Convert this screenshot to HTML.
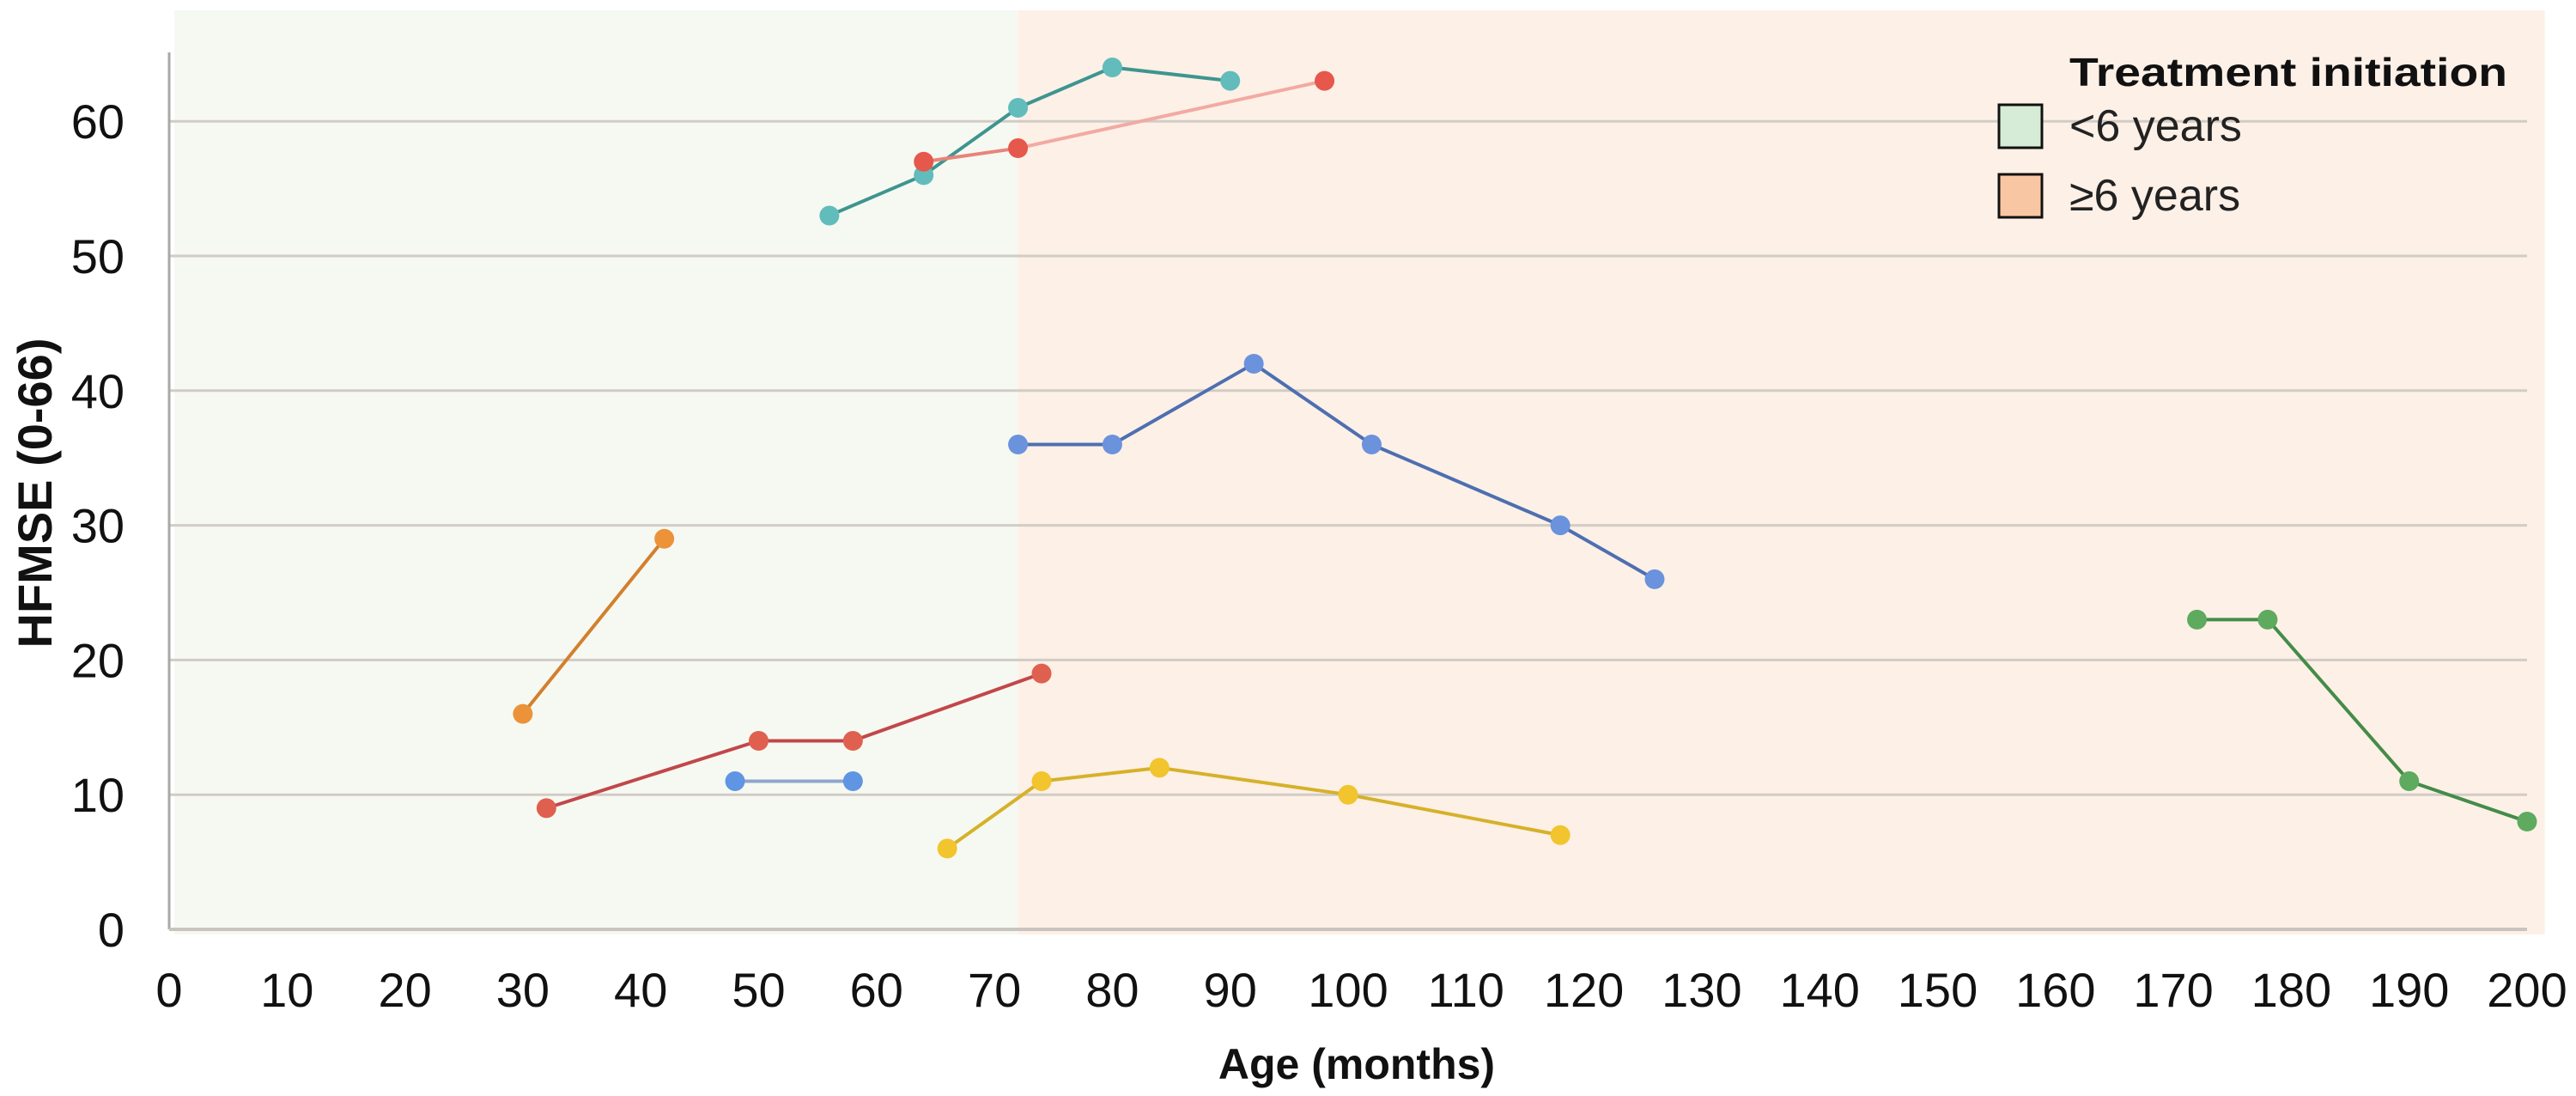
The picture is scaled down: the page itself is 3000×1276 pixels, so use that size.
<!DOCTYPE html>
<html><head><meta charset="utf-8"><style>
html,body{margin:0;padding:0;background:#fff;}
svg{display:block;}
text{font-family:"Liberation Sans",Arial,sans-serif;}
</style></head><body>
<svg id="chart" width="3000" height="1276" viewBox="0 0 3000 1276" xmlns="http://www.w3.org/2000/svg">
<g id="bg"></g>
<g id="grid"></g>
<g id="axes"></g>
<g id="series"></g>
<g id="legend">
  <text x="2410" y="100" font-size="46" font-weight="bold" textLength="510" lengthAdjust="spacingAndGlyphs" fill="#111">Treatment initiation</text>
  <rect x="2328" y="122" width="50" height="50" fill="#d7ecd6" stroke="#111" stroke-width="3"/>
  <text x="2410" y="164" font-size="52" fill="#222">&lt;6 years</text>
  <rect x="2328" y="203" width="50" height="50" fill="#f9c6a4" stroke="#111" stroke-width="3"/>
  <text x="2410" y="245" font-size="52" fill="#222">≥6 years</text>
</g>
<text x="1580" y="1256" font-size="50" font-weight="bold" text-anchor="middle" fill="#111">Age (months)</text>
<text transform="translate(60,574) rotate(-90)" font-size="56" font-weight="bold" text-anchor="middle" fill="#111">HFMSE (0-66)</text>
</svg>
<script>
const xTicks = [0,10,20,30,40,50,60,70,80,90,100,110,120,130,140,150,160,170,180,190,200];
const yTicks = [0,10,20,30,40,50,60];
const regionBounds = [0,72,201.5];
const tealX = [56,64,72,80,90];
const tealY = [53,56,61,64,63];
const salmonX = [64,72,98];
const salmonY = [57,58,63];
const blueX = [72,80,92,102,118,126];
const blueY = [36,36,42,36,30,26];
const orangeX = [30,42];
const orangeY = [16,29];
const redX = [32,50,58,74];
const redY = [9,14,14,19];
const lightBlueX = [48,58];
const lightBlueY = [11,11];
const yellowX = [66,74,84,100,118];
const yellowY = [6,11,12,10,7];
const greenX = [172,178,190,200];
const greenY = [23,23,11,8];

const NS="http://www.w3.org/2000/svg";
const X0=197,X1=2943,Y0=1082,PX=(X1-X0)/200,PY=15.68;
const sx=v=>X0+v*PX, sy=v=>Y0-v*PY;
function mk(tag,attrs,parent){const e=document.createElementNS(NS,tag);for(const k in attrs)e.setAttribute(k,attrs[k]);parent.appendChild(e);return e;}
const bg=document.getElementById('bg'),grid=document.getElementById('grid'),axes=document.getElementById('axes'),ser=document.getElementById('series');

let r1=mk('rect',{x:sx(regionBounds[0])+6,y:12,width:sx(regionBounds[1])-sx(regionBounds[0])-6,height:1076,fill:'#f6f9f2'},bg);


let r2=mk('rect',{x:sx(regionBounds[1]),y:12,width:sx(regionBounds[2])-sx(regionBounds[1]),height:1076,fill:'#fdf0e7'},bg);



yTicks.forEach(v=>{
  if(v>0){let g=mk('line',{x1:X0,x2:X1,y1:sy(v),y2:sy(v),stroke:'#d2ccc6','stroke-width':3},grid);
  
  }
  let t=mk('text',{x:145,y:sy(v)+20,'font-size':56,'text-anchor':'end',fill:'#111'},axes);t.textContent=v;
  
  
});
xTicks.forEach(v=>{
  let t=mk('text',{x:sx(v),y:1172,'font-size':56,'text-anchor':'middle',fill:'#111'},axes);t.textContent=v;
  
  
});
let ya=mk('line',{x1:X0,x2:X0,y1:61,y2:Y0,stroke:'#a9a9a9','stroke-width':3},axes);


let xa=mk('line',{x1:X0,x2:X1,y1:Y0,y2:Y0,stroke:'#c9c4bf','stroke-width':4},axes);



function drawSeries(name,xs,ys,line,dot,lineColors){
  const g=mk('g',{},ser);
  
  
  for(let i=0;i<xs.length-1;i++){
    const l=mk('line',{x1:sx(xs[i]),y1:sy(ys[i]),x2:sx(xs[i+1]),y2:sy(ys[i+1]),stroke:lineColors?lineColors[i]:line,'stroke-width':4,'stroke-linecap':'round'},g);
    
    
  }
  xs.forEach((x,i)=>{
    const c=mk('circle',{cx:sx(x),cy:sy(ys[i]),r:11.5,fill:dot},g);
    
    
  });
}
drawSeries('teal',tealX,tealY,'#3e958f','#62bcbc');
drawSeries('salmon',salmonX,salmonY,'#f0a49c','#e5584b',['#e8847a','#f2aaa2']);
drawSeries('blue',blueX,blueY,'#4e6fb0','#6b92dc');
drawSeries('orange',orangeX,orangeY,'#d2802e','#ec9239');
drawSeries('red',redX,redY,'#c2474a','#e0604f');
drawSeries('light-blue',lightBlueX,lightBlueY,'#8fa6cc','#5f95e2');
drawSeries('yellow',yellowX,yellowY,'#d6b129','#f2c42e');
drawSeries('green',greenX,greenY,'#448c48','#5eaa5f');
</script>
</body></html>
